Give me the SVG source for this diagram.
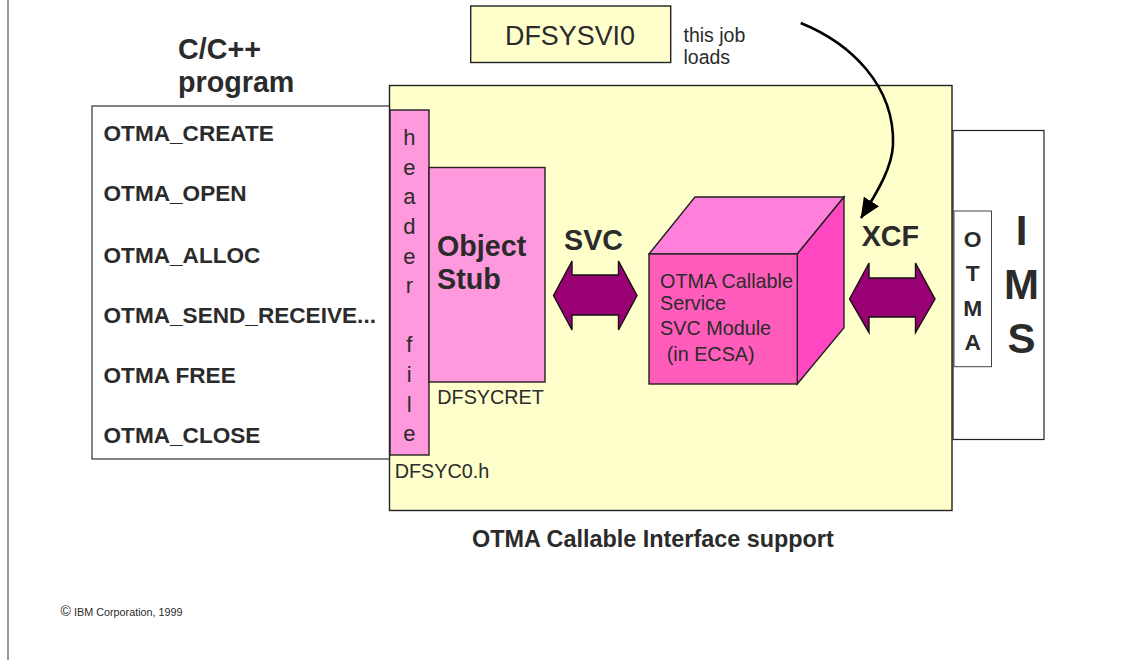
<svg xmlns="http://www.w3.org/2000/svg" width="1123" height="660" viewBox="0 0 1123 660">
<style>
text{font-family:"Liberation Sans",Arial,sans-serif;fill:#2b2b2b}
.b{font-weight:bold}
.s{stroke:#222;stroke-width:1.4;stroke-linejoin:miter}
.m{text-anchor:middle}
.n{font-size:19.8px}
.f{font-size:22.6px;font-weight:bold}
.h{font-size:28.7px;font-weight:bold}
.pk{fill:#FF99DD}
.ye{fill:#FFFFCC}
.dbl{fill:#990073;stroke:#111;stroke-width:1.4}
</style>
<defs>
<marker id="head" markerUnits="userSpaceOnUse" viewBox="0 0 20 18" markerWidth="20" markerHeight="18" refX="19.5" refY="9" orient="auto">
<path d="M0,0 L20,9 L0,18 Z" fill="#000"/>
</marker>
</defs>
<rect width="1123" height="660" fill="#fff"/>
<line x1="8" y1="0" x2="8" y2="660" stroke="#555" stroke-width="1.2"/>
<g id="program">
<rect x="92" y="106" width="298" height="353" fill="#fff" stroke="#333" stroke-width="1.2"/>
<text class="h" x="178" y="59">C/C++</text>
<text class="h" x="178" y="91.5">program</text>
<text class="f" x="103.5" y="141">OTMA_CREATE</text>
<text class="f" x="103.5" y="201.3">OTMA_OPEN</text>
<text class="f" x="103.5" y="262.5">OTMA_ALLOC</text>
<text class="f" x="103.5" y="322.5">OTMA_SEND_RECEIVE...</text>
<text class="f" x="103.5" y="382.5">OTMA FREE</text>
<text class="f" x="103.5" y="442.7">OTMA_CLOSE</text>
</g>
<g id="ims">
<rect x="953" y="130.5" width="91" height="309" fill="#fff" stroke="#222" stroke-width="1.2"/>
<text class="b m" font-size="42" x="1021.5" y="245">I</text>
<text class="b m" font-size="42" x="1021.5" y="299.3">M</text>
<text class="b m" font-size="42" x="1021.5" y="353.3">S</text>
</g>
<g id="support">
<rect class="ye s" x="389.5" y="85.5" width="562.5" height="425"/>
<text class="n" x="394.7" y="477.7">DFSYC0.h</text>
<text class="b" font-size="23.4" x="472" y="547">OTMA Callable Interface support</text>
<text class="h" x="564" y="250">SVC</text>
<text class="h" x="861.7" y="246">XCF</text>
</g>
<g id="otma">
<rect x="954" y="211" width="37.5" height="155.7" fill="#fff" stroke="#444" stroke-width="1"/>
<text class="b m" font-size="22.8" x="972.7" y="247.3">O</text>
<text class="b m" font-size="22.8" x="972.7" y="281">T</text>
<text class="b m" font-size="22.8" x="972.7" y="315.7">M</text>
<text class="b m" font-size="22.8" x="972.7" y="350">A</text>
</g>
<g id="header-file">
<rect class="pk s" x="390" y="110" width="39" height="345"/>
<text class="m" font-size="22" x="409.3"><tspan x="409.3" y="145">h</tspan><tspan x="409.3" y="174.6">e</tspan><tspan x="409.3" y="204.3">a</tspan><tspan x="409.3" y="233.9">d</tspan><tspan x="409.3" y="263.5">e</tspan><tspan x="409.3" y="293">r</tspan><tspan x="409.3" y="352.3">f</tspan><tspan x="409.3" y="381.9">i</tspan><tspan x="409.3" y="411.5">l</tspan><tspan x="409.3" y="441">e</tspan></text>
</g>
<g id="object-stub">
<rect class="pk s" x="429" y="167.5" width="116" height="214.5"/>
<text class="h" x="437" y="255.7">Object</text>
<text class="h" x="437" y="288.7">Stub</text>
<text class="n" x="437.3" y="404.3">DFSYCRET</text>
</g>
<g id="svc-module">
<polygon class="s" fill="#FF80DB" points="649,254 695,197 844,197 797.3,254"/>
<polygon class="s" fill="#FF47C2" points="797.3,254 844,197 844,327.7 797.3,384"/>
<rect class="s" fill="#FF5CBB" x="649" y="254" width="148.3" height="130"/>
<text class="n" x="660" y="287.7">OTMA Callable</text>
<text class="n" x="660" y="310">Service</text>
<text class="n" x="660" y="335">SVC Module</text>
<text class="n" x="666.7" y="361">(in ECSA)</text>
</g>
<g id="dfsysvi0">
<rect class="ye s" x="470.7" y="6" width="200" height="56.5"/>
<text font-size="26.9" x="505" y="45">DFSYSVI0</text>
<text font-size="19.5" x="683.5" y="42">this job</text>
<text font-size="19.5" x="683.5" y="63.5">loads</text>
</g>
<g id="connectors">
<polygon class="dbl" points="553.5,295.5 572,261 572,275 618.5,275 618.5,261 637,295.5 618.5,330 618.5,315 572,315 572,330"/>
<polygon class="dbl" points="849.5,299 869,263 869,278 915.5,278 915.5,263 935,299 915.5,332.7 915.5,317 869,317 869,332.7"/>
<path d="M800.7,23 C850,43 895,85 893,145 C892,166 880,188 861,218" fill="none" stroke="#000" stroke-width="2.6" marker-end="url(#head)"/>
</g>
<g id="copyright">
<text font-size="14" x="60.5" y="616">©</text>
<text font-size="10.8" x="74" y="616">IBM Corporation, 1999</text>
</g>
</svg>
